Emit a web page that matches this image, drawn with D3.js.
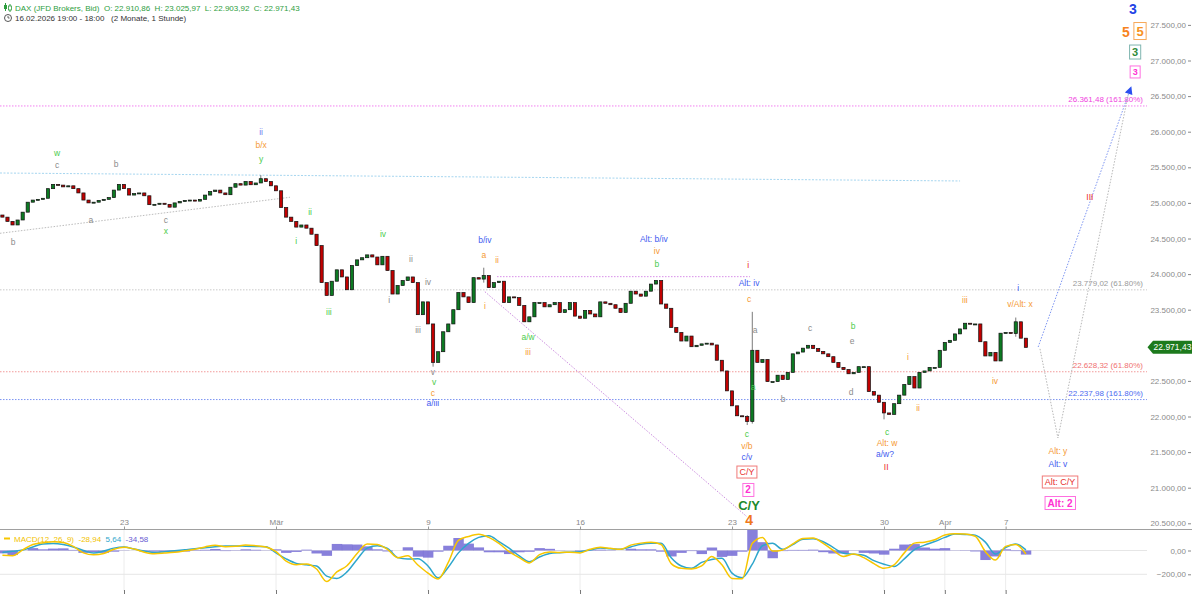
<!DOCTYPE html>
<html><head><meta charset="utf-8">
<script src="https://cdn.jsdelivr.net/npm/d3@7"></script>
<style>
body{margin:0;background:#fff;}
svg{display:block;font-family:"Liberation Sans",Arial,sans-serif;}
</style></head><body>
<svg id="c" width="1192" height="594"></svg>
<script>
// ---------------- DATA ----------------
const firstBarDay = 1;      // trading-day index of first bar (day 0 = Mon 16.02.)
const barsPerDay = 6;
const firstOpen = 24830;
const closes = [
24800,24740,24690,24760,24870,25010,25040,25050,25065,25200,
25260,25250,25225,25240,25200,25140,25040,25000,25010,25035,
25050,25075,25180,25260,25200,25110,25130,25140,25100,24975,
24980,24995,24980,24940,25000,25020,25035,25040,25025,25050,
25110,25160,25180,25140,25115,25220,25270,25250,25300,25255,
25280,25340,25300,25240,25170,24935,24800,24740,24660,24690,
24645,24560,24400,23880,23700,23900,24060,23960,23780,24120,
24200,24230,24270,24240,24130,24250,24050,23720,23840,23910,
23960,23880,23430,23610,23300,22760,22910,23190,23300,23500,
23740,23680,23600,23950,23930,23980,23810,23880,23900,23600,
23680,23670,23560,23330,23400,23600,23600,23540,23570,23600,
23460,23500,23600,23410,23380,23490,23440,23400,23610,23590,
23570,23520,23460,23590,23760,23720,23690,23760,23860,23910,
23580,23520,23250,23180,23060,23130,22980,23000,23020,23030,
23005,22790,22640,22360,22150,22010,22000,21930,22930,22760,
22800,22490,22490,22580,22520,22620,22880,22905,22960,23000,
22955,22915,22880,22840,22760,22690,22660,22600,22620,22700,
22700,22350,22300,22200,22050,22030,22180,22300,22450,22560,
22400,22620,22640,22690,22690,22930,23040,23070,23160,23230,
23310,23300,23300,23050,22850,22900,22780,23170,23180,23165,
23330,23100,22971.43
];
const spikeBars  = [51, 85, 95, 147, 148, 174, 200];
const spikeHighs = [25390, 22950, 24090, 22020, 23470, 22080, 23390];
const spikeLows  = [25290, 22700, 23880, 21880, 21900, 21960, 23120];

const macdPerDay = 3;
const macdLine = [
-40,-44,5,50,65,74,68,35,-20,-36,
-25,10,28,12,-14,-27,-22,-15,-3,10,
30,45,32,35,46,40,30,-10,-90,-120,
-113,-155,-260,-180,-128,-25,55,50,10,-60,
-45,-122,-190,-240,-100,85,118,136,110,60,
-10,-60,-105,-35,-12,-16,-15,-20,10,27,
18,10,45,62,70,50,-110,-150,-155,-130,
-50,-120,-235,-238,60,110,-5,5,55,100,
105,60,0,-50,-30,-60,-110,-150,-120,-20,
62,70,90,130,140,138,120,-10,-80,35,
50,-28.94
];
const signalLine = [
-16,-6,4,30,55,58,50,30,0,-22,
-5,20,30,12,-5,-17,-10,-2,6,14,
24,32,37,38,36,34,32,-20,-70,-108,
-120,-130,-215,-235,-180,-75,20,40,18,-60,
-72,-70,-130,-230,-140,-20,60,110,125,75,
20,-45,-94,-55,-26,-18,-14,-10,5,20,
15,10,30,52,60,60,-60,-130,-150,-100,
-75,-66,-190,-228,-115,40,60,10,50,95,
98,74,25,-24,-32,-40,-85,-115,-135,-70,
8,45,75,110,138,135,128,70,-30,25,
55,5.64
];
const macdLegendValues = ["-28,94", "5,64", "-34,58"];

const dateTickDays   = [5, 10, 15, 20, 25, 30, 32, 34];
const dateTickLabels = ["23", "Mär", "9", "16", "23", "30", "Apr", "7"];
// 23.000 is hidden behind the last-price tag in the reference
const priceTicks = [20500,21000,21500,22000,22500,23500,24000,24500,25000,25500,26000,26500,27000,27500];
const macdTicks = [0, -200];

const fibLevels = [26361.48, 23779.02, 22628.32, 22237.98];
const fibTexts  = ["26.361,48 (161.80%)", "23.779,02 (61.80%)", "22.628,32 (61.80%)", "22.237,98 (161.80%)"];

// annotation lines in data units [day, price]
const trendCyan   = [[0.921, 25420], [32.5, 25308]];
const trendGray   = [[0.921, 24573], [10.46, 25079]];
const levelViolet = [[17.27, 23964], [25.59, 23964]];
const diagViolet  = [[16.87, 23753], [25.49, 20593]];
const projBlue    = [[35.07, 22976], [38.09, 26586]];
const projGray    = [[35.13, 22950], [35.72, 21698], [38.03, 26516]];

// wave labels [text, day, price, colour]
const waveLabels = [
["ii",9.51,25996,"p"],["b/x",9.51,25813,"o"],["y",9.51,25617,"g"],
["w",2.80,25702,"g"],["c",2.80,25534,"k"],["b",4.74,25548,"k"],
["a",3.91,24761,"k"],["c",6.38,24761,"k"],["x",6.38,24606,"g"],["b",1.35,24451,"k"],
["ii",11.12,24872,"g"],["i",10.66,24465,"g"],["iii",11.74,23468,"g"],["iv",13.52,24563,"g"],
["ii",14.44,24212,"k"],["iv",15.0,23889,"k"],["i",13.72,23636,"k"],["iii",14.67,23215,"k"],
["v",15.16,22625,"k"],["v",15.2,22485,"g"],["c",15.16,22330,"o"],["a/iii",15.16,22190,"b"],
["b/iv",16.87,24479,"b"],["a",16.84,24268,"o"],["ii",17.27,24198,"o"],["i",16.87,23552,"o"],
["a/w",18.29,23117,"g"],["iii",18.29,22906,"o"],
["Alt: b/iv",22.43,24493,"b"],["iv",22.53,24324,"o"],["b",22.53,24142,"g"],
["i",25.53,24128,"r"],["Alt: iv",25.56,23875,"b"],["c",25.56,23650,"o"],["a",25.76,23215,"k"],
["a",25.69,22414,"g"],["c",25.49,21754,"g"],["v/b",25.49,21586,"o"],["c/v",25.49,21431,"b"],
["b",26.68,22246,"k"],["c",27.57,23243,"k"],["b",28.98,23271,"g"],["e",28.95,23060,"k"],["d",28.92,22344,"k"],
["c",30.1,21782,"g"],["Alt: w",30.1,21628,"o"],["a/w?",30.03,21473,"b"],["II",30.07,21291,"r"],
["i",30.79,22836,"o"],["ii",31.12,22119,"o"],["iii",32.66,23636,"o"],["iv",33.65,22499,"o"],
["i",34.41,23805,"b"],["v/Alt: x",34.47,23580,"o"],["III",36.77,25083,"r"],
["Alt: y",35.72,21515,"o"],["Alt: v",35.72,21333,"b"]
];
// boxed labels [text, day, price, colour, boxColour, size, bold]
const boxedLabels = [
["5",38.42,27414,"#f7931e","#f7a95a",13,true],
["3",38.26,27119,"#2e8b3a","#7fb5b0",11,true],
["3",38.26,26839,"#ff2fd2","#ff6fe0",9,true],
["C/Y",25.49,21220,"#e8322f","#f07a78",9,false],
["2",25.53,20968,"#ff2fd2","#ff6fe0",10,true],
["Alt: C/Y",35.79,21080,"#e8322f","#f07a78",9,false],
["Alt: 2",35.79,20785,"#ff2fd2","#ff6fe0",10,true]
];
// large plain labels
const bigLabels = [
["3",38.19,27723,"#2343e6",14],
["5",37.96,27400,"#f7831e",14],
["C/Y",25.56,20743,"#1d8a2c",13],
["4",25.56,20546,"#f0781a",14]
];

// ---------------- DRAW ----------------
const svg = d3.select("#c");
const W = 1192, plotRight = 1147;
const x = d3.scaleLinear().domain([0.921, 38.65]).range([0, plotRight]);
const y = d3.scaleLinear().domain([20500, 27500]).range([523.3, 24.9]);
const ym = d3.scaleLinear().domain([0, -200]).range([550.5, 574.3]);
const loc = d3.formatLocale({decimal: ",", thousands: ".", grouping: [3], currency: ["", ""]});
const f2 = loc.format(",.2f");
const colors = {g:"#4ccc4c", k:"#8c8c8c", o:"#f59a35", b:"#3f5cf0", p:"#6f7ff0", r:"#ec2a26", m:"#ff33d6"};

const defs = svg.append("defs");
defs.append("clipPath").attr("id","cpMain").append("rect").attr("x",0).attr("y",20).attr("width",plotRight).attr("height",506);
defs.append("clipPath").attr("id","cpMacd").append("rect").attr("x",0).attr("y",530).attr("width",plotRight).attr("height",64);

// MACD grid
const gM = svg.append("g");
gM.selectAll("line.vg").data(dateTickDays).join("line")
  .attr("x1",d=>x(d)).attr("x2",d=>x(d)).attr("y1",530).attr("y2",591)
  .attr("stroke","#ececec").attr("stroke-width",1);
gM.selectAll("line.hg").data(macdTicks).join("line")
  .attr("x1",0).attr("x2",plotRight).attr("y1",d=>ym(d)).attr("y2",d=>ym(d))
  .attr("stroke","#e6e6e6").attr("stroke-width",1);

// fib horizontal levels
const fibColors = ["#f27ff0", "#c9c9c9", "#f29a9a", "#7b93f2"];
const fibTextColors = ["#f03fe0", "#9a9a9a", "#f07070", "#4d6af0"];
const gF = svg.append("g");
fibLevels.forEach((v,i)=>{
  gF.append("line").attr("x1",0).attr("x2",plotRight).attr("y1",y(v)).attr("y2",y(v))
    .attr("stroke",fibColors[i]).attr("stroke-width",1).attr("stroke-dasharray","1.5,1.5");
  gF.append("text").attr("x",plotRight-4).attr("y",y(v)-4).attr("text-anchor","end")
    .attr("font-size",8).attr("fill",fibTextColors[i]).text(fibTexts[i]);
});

// annotation lines
const lineGen = d3.line().x(d=>x(d[0])).y(d=>y(d[1]));
const gL = svg.append("g").attr("clip-path","url(#cpMain)");
[[trendCyan,"#a6d6f0","2,1.5"],[trendGray,"#bdbdbd","1.5,1.5"],[levelViolet,"#d88de8","1.5,1.5"],
 [diagViolet,"#cc8ee0","1.5,1.5"],[projBlue,"#7d95f2","1.5,1.5"],[projGray,"#b8b8b8","1.5,1.5"]]
 .forEach(([pts,col,dash])=>{
  gL.append("path").attr("d",lineGen(pts)).attr("fill","none").attr("stroke",col)
    .attr("stroke-width",1).attr("stroke-dasharray",dash);
 });
// arrow head at end of blue projection
{
  const p0 = projBlue[0], p1 = projBlue[1];
  const ax = x(p1[0]), ay = y(p1[1]);
  const ang = Math.atan2(ay - y(p0[1]), ax - x(p0[0])) * 180 / Math.PI;
  svg.append("path").attr("d","M4,0 L-4,-4 L-4,4 Z")
    .attr("transform",`translate(${ax},${ay}) rotate(${ang})`).attr("fill","#2a4ff0");
}

// candles
const bars = closes.map((c,k)=>{
  const o = k ? closes[k-1] : firstOpen;
  let hi = Math.max(o,c), lo = Math.min(o,c);
  const si = spikeBars.indexOf(k);
  if (si >= 0) { hi = Math.max(hi, spikeHighs[si]); lo = Math.min(lo, spikeLows[si]); }
  return {d: firstBarDay + k / barsPerDay, o, c, hi, lo};
});
const gC = svg.append("g").attr("clip-path","url(#cpMain)");
gC.selectAll("line.w").data(bars).join("line")
  .attr("x1",b=>x(b.d)).attr("x2",b=>x(b.d)).attr("y1",b=>y(b.hi)).attr("y2",b=>y(b.lo))
  .attr("stroke","#7a7a7a").attr("stroke-width",1);
gC.selectAll("rect.b").data(bars).join("rect")
  .attr("x",b=>x(b.d)-1.6).attr("width",3.2)
  .attr("y",b=>y(Math.max(b.o,b.c)))
  .attr("height",b=>Math.max(1, Math.abs(y(b.o)-y(b.c))))
  .attr("fill",b=>b.c>=b.o ? "#0c7a22" : "#c20000")
  .attr("stroke","#111").attr("stroke-width",0.7);

// wave labels
const gW = svg.append("g");
waveLabels.forEach(([t,d,p,c])=>{
  gW.append("text").attr("x",x(d)).attr("y",y(p)).attr("text-anchor","middle")
    .attr("dominant-baseline","central").attr("font-size",8.5).attr("fill",colors[c]).text(t);
});
boxedLabels.forEach(([t,d,p,col,bcol,sz,bold])=>{
  const g = gW.append("g");
  const tx = g.append("text").attr("x",x(d)).attr("y",y(p)).attr("text-anchor","middle")
    .attr("dominant-baseline","central").attr("font-size",sz)
    .attr("font-weight",bold?"bold":"normal").attr("fill",col).text(t);
  const bb = tx.node().getBBox();
  g.insert("rect","text").attr("x",bb.x-2.5).attr("y",bb.y-1).attr("width",bb.width+5).attr("height",bb.height+2)
    .attr("fill","#fff").attr("stroke",bcol).attr("stroke-width",1);
});
bigLabels.forEach(([t,d,p,col,sz])=>{
  gW.append("text").attr("x",x(d)).attr("y",y(p)).attr("text-anchor","middle")
    .attr("dominant-baseline","central").attr("font-size",sz).attr("font-weight","bold")
    .attr("fill",col).text(t);
});

// MACD panel
const gH = svg.append("g").attr("clip-path","url(#cpMacd)");
const step = x(1/macdPerDay) - x(0);
gH.selectAll("rect").data(macdLine.map((m,j)=>({d: firstBarDay + j/macdPerDay, v: m - signalLine[j]}))).join("rect")
  .attr("x",h=>x(h.d)-step/2).attr("width",step+0.3)
  .attr("y",h=>Math.min(ym(0),ym(h.v))).attr("height",h=>Math.abs(ym(h.v)-ym(0)))
  .attr("fill","#6a60d2").attr("opacity",0.8);
const mLine = d3.line().x((v,j)=>x(firstBarDay + j/macdPerDay)).y(v=>ym(v)).curve(d3.curveMonotoneX);
gH.append("path").attr("d",mLine(signalLine)).attr("fill","none").attr("stroke","#2ea6cc").attr("stroke-width",1.5);
gH.append("path").attr("d",mLine(macdLine)).attr("fill","none").attr("stroke","#f7c600").attr("stroke-width",1.5);

// MACD legend
svg.append("line").attr("x1",4).attr("x2",10).attr("y1",538.5).attr("y2",538.5).attr("stroke","#f7c600").attr("stroke-width",2);
const lg = svg.append("text").attr("x",14).attr("y",541.5).attr("font-size",8).style("white-space","pre");
lg.append("tspan").attr("fill","#f2c200").text("MACD(12, 26, 9)  " + macdLegendValues[0] + "  ");
lg.append("tspan").attr("fill","#2ea6cc").text(macdLegendValues[1] + "  ");
lg.append("tspan").attr("fill","#6a60d2").text(macdLegendValues[2]);

// separator and date axis
svg.append("line").attr("x1",0).attr("x2",W).attr("y1",529.5).attr("y2",529.5).attr("stroke","#a0a0a0").attr("stroke-width",1);
const xa = svg.append("g").attr("transform","translate(0,529.5)")
  .call(d3.axisTop(x).tickValues(dateTickDays).tickFormat((d,i)=>dateTickLabels[i]).tickSize(3).tickPadding(2));
xa.select(".domain").remove();
xa.selectAll("line").attr("stroke","#999");
xa.selectAll("text").attr("fill","#888").attr("font-size",8).attr("font-family","Liberation Sans, Arial, sans-serif");
const xb = svg.append("g").attr("transform","translate(0,590)")
  .call(d3.axisBottom(x).tickValues(dateTickDays).tickFormat("").tickSize(4));
xb.select(".domain").remove();
xb.selectAll("line").attr("stroke","#777");

// price axis
const ya = svg.append("g").attr("transform","translate(1191,0)")
  .call(d3.axisLeft(y).tickValues(priceTicks).tickFormat(f2).tickSize(3).tickPadding(2));
ya.select(".domain").remove();
ya.selectAll("line").attr("stroke","#888");
ya.selectAll("text").attr("fill","#8a8a8a").attr("font-size",8).attr("font-family","Liberation Sans, Arial, sans-serif");
const yma = svg.append("g").attr("transform","translate(1191,0)")
  .call(d3.axisLeft(ym).tickValues(macdTicks).tickFormat(f2).tickSize(3).tickPadding(2));
yma.select(".domain").remove();
yma.selectAll("line").attr("stroke","#888");
yma.selectAll("text").attr("fill","#8a8a8a").attr("font-size",8).attr("font-family","Liberation Sans, Arial, sans-serif");

// current price tag
{
  const last = closes[closes.length-1];
  const yc = y(last);
  svg.append("path").attr("d",`M1147.5,${yc} L1153,${yc-6.5} L1192,${yc-6.5} L1192,${yc+6.5} L1153,${yc+6.5} Z`)
    .attr("fill","#1d7a1d");
  svg.append("text").attr("x",1172.5).attr("y",yc).attr("text-anchor","middle").attr("dominant-baseline","central")
    .attr("font-size",8.5).attr("fill","#fff").text(f2(last));
}

// header
const hd = svg.append("g");
// candle icon
hd.append("line").attr("x1",5.5).attr("x2",5.5).attr("y1",3).attr("y2",11).attr("stroke","#2e9e3e");
hd.append("rect").attr("x",4).attr("y",5).attr("width",3).attr("height",4).attr("fill","#2e9e3e");
hd.append("line").attr("x1",10).attr("x2",10).attr("y1",4).attr("y2",12).attr("stroke","#2e9e3e");
hd.append("rect").attr("x",8.5).attr("y",6).attr("width",3).attr("height",4).attr("fill","#fff").attr("stroke","#2e9e3e").attr("stroke-width",0.8);
hd.append("text").attr("x",15).attr("y",10.5).attr("font-size",8).attr("fill","#2e9e3e").style("white-space","pre")
  .text("DAX (JFD Brokers, Bid)  O: 22.910,86  H: 23.025,97  L: 22.903,92  C: 22.971,43");
// clock icon
hd.append("circle").attr("cx",8).attr("cy",18).attr("r",3.5).attr("fill","none").attr("stroke","#444").attr("stroke-width",0.9);
hd.append("path").attr("d","M8,16 L8,18 L9.6,18").attr("fill","none").attr("stroke","#444").attr("stroke-width",0.8);
hd.append("text").attr("x",15).attr("y",21).attr("font-size",8).attr("fill","#333").style("white-space","pre")
  .text("16.02.2026 19:00 - 18:00   (2 Monate, 1 Stunde)");
</script>
</body></html>
